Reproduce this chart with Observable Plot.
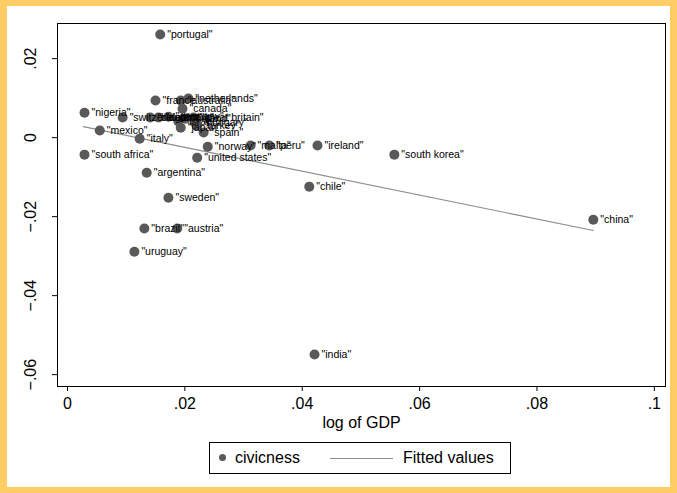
<!DOCTYPE html>
<html>
<head>
<meta charset="utf-8">
<script src="https://cdn.jsdelivr.net/npm/d3@7"></script>
<script src="https://cdn.jsdelivr.net/npm/@observablehq/plot@0.6"></script>
<style>
  html, body { margin: 0; padding: 0; }
  body { width: 677px; height: 493px; overflow: hidden; font-family: "Liberation Sans", Arial, Helvetica, sans-serif; }
  #outer { position: relative; width: 677px; height: 493px; background: #ffcc66; }
  #panel { position: absolute; left: 7px; top: 6px; width: 663px; height: 481px; background: #ffffff; }
  #chart { position: absolute; left: 0; top: 0; }
  #legend { position: absolute; left: 202px; top: 436px; width: 302px; height: 32px; border: 1px solid #000; box-sizing: border-box; background: #fff; font-size: 16px; line-height: 18px; color: #000; }
  #legend .dot { position: absolute; left: 9px; top: 11px; width: 7px; height: 7px; border-radius: 50%; background: #595959; }
  #legend .t1 { position: absolute; left: 25px; top: 6px; }
  #legend .ln { position: absolute; left: 120px; top: 15px; width: 63px; height: 0; border-top: 1px solid #8c8c8c; }
  #legend .t2 { position: absolute; left: 193px; top: 6px; }
</style>
</head>
<body>
<div id="outer"><div id="panel"><div id="chart"></div>
<div id="legend"><div class="dot"></div><div class="t1">civicness</div><div class="ln"></div><div class="t2">Fitted values</div></div>
</div></div>
<script>
const countries = ["portugal","netherlands","france","australia","canada","nigeria","switzerland","belgium","denmark","germany","finland","great britain","israel","hungary","turkey","japan","spain","mexico","italy","norway","malta","peru","ireland","south korea","south africa","united states","argentina","chile","sweden","brazil","austria","uruguay","china","india"];
const gdp =   [0.0158,0.0206,0.0150,0.0193,0.0196,0.0029,0.0094,0.0141,0.0155,0.0172,0.0201,0.0215,0.0189,0.0218,0.0220,0.0193,0.0232,0.0055,0.0123,0.0239,0.0312,0.0344,0.0426,0.0557,0.0029,0.0221,0.0135,0.0412,0.0172,0.0131,0.0187,0.0114,0.0896,0.0421];
const civic = [0.0261,0.0099,0.0094,0.0094,0.0073,0.0063,0.0051,0.0051,0.0051,0.0053,0.0048,0.0051,0.0041,0.0038,0.0030,0.0025,0.0013,0.0018,-0.0003,-0.0023,-0.0020,-0.0020,-0.0020,-0.0043,-0.0043,-0.0051,-0.0089,-0.0124,-0.0152,-0.0230,-0.0230,-0.0289,-0.0208,-0.0549];
const fitX = [0.0027, 0.0896];
const fitY = [0.0028, -0.0235];
const xTicks = [0, 0.02, 0.04, 0.06, 0.08, 0.1];
const xTickLabels = ["0", ".02", ".04", ".06", ".08", ".1"];
const yTicks = [0.02, 0, -0.02, -0.04, -0.06];
const yTickLabels = [".02", "0", "\u2212.02", "\u2212.04", "\u2212.06"];

const pts = countries.map((c, i) => ({country: c, x: gdp[i], y: civic[i]}));
const fit = fitX.map((x, i) => ({x, y: fitY[i]}));
const yt = yTicks.map((v, i) => ({v, label: yTickLabels[i]}));

const chart = Plot.plot({
  width: 663,
  height: 429,
  marginLeft: 50,
  marginTop: 17,
  marginRight: 5,
  marginBottom: 49,
  style: {fontFamily: '"Liberation Sans", Arial, Helvetica, sans-serif', background: "transparent", color: "#000"},
  x: {domain: [-0.0017, 0.1019], label: null},
  y: {domain: [-0.0630, 0.0289], label: null},
  marks: [
    Plot.frame({stroke: "#000", strokeWidth: 1}),
    Plot.axisX({ticks: xTicks, tickFormat: (d) => xTickLabels[xTicks.indexOf(d)], tickSize: 5, tickPadding: 6, fontSize: 16, stroke: "#000", strokeOpacity: 1, fill: "#000", label: null}),
    Plot.text(["log of GDP"], {frameAnchor: "bottom", dy: 41, text: d => d, fontSize: 16, fill: "#000"}),
    Plot.axisY({ticks: yTicks, tickFormat: () => "", tickSize: 5, stroke: "#000", strokeOpacity: 1, label: null}),
    Plot.text(yt, {frameAnchor: "left", y: "v", text: "label", rotate: -90, dx: -27, fontSize: 16, fill: "#000", textAnchor: "middle", lineAnchor: "middle"}),
    Plot.line(fit, {x: "x", y: "y", stroke: "#8c8c8c", strokeWidth: 1.2}),
    Plot.dot(pts, {x: "x", y: "y", r: 5, fill: "#595959", stroke: "none"}),
    Plot.text(pts, {x: "x", y: "y", text: d => "\"" + d.country + "\"", dx: 7, textAnchor: "start", fontSize: 10.5, fill: "#000"})
  ]
});
document.getElementById("chart").appendChild(chart);
</script>
</body>
</html>
